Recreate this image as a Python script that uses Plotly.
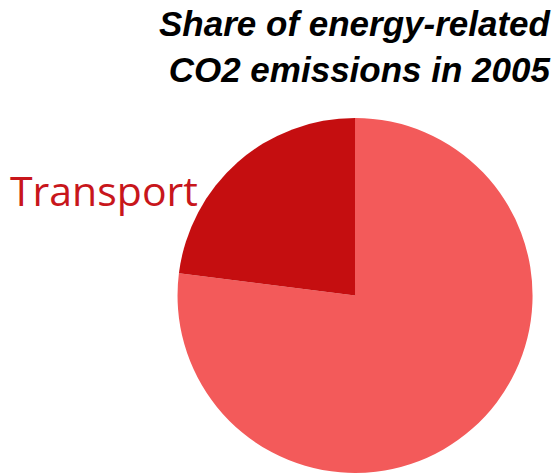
import plotly.graph_objects as go

sectors = ["Other sectors", "Transport"]
shares = [77, 23]
slice_colors = ["#F35A5A", "#C50E10"]
title_lines = ["Share of energy-related", "CO2 emissions in 2005"]
label_text = "Transport"

fig = go.Figure(go.Pie(
    labels=sectors,
    values=shares,
    sort=False,
    direction="clockwise",
    rotation=0,
    marker=dict(colors=slice_colors, line=dict(width=0)),
    textinfo="none",
    hoverinfo="label+percent",
    showlegend=False,
    domain=dict(x=[0.317, 0.951], y=[0.004, 0.752]),
))

fig.add_annotation(
    text="<br>".join(title_lines),
    xref="paper", yref="paper", x=0.988, y=0.996,
    xanchor="right", yanchor="top", align="right", showarrow=False,
    font=dict(family="Liberation Sans", size=35, color="black", weight="bold", style="italic"),
)
fig.add_annotation(
    text=label_text,
    xref="paper", yref="paper", x=0.015, y=0.6,
    xanchor="left", yanchor="middle", showarrow=False,
    font=dict(family="Open Sans", size=41, color="#C8161B"),
)

fig.update_layout(
    width=560, height=475,
    margin=dict(l=0, r=0, t=0, b=0),
    paper_bgcolor="white", plot_bgcolor="white",
)
fig.write_html("out.html", post_script="document.body.style.margin='0';",
               config={"displayModeBar": False})
